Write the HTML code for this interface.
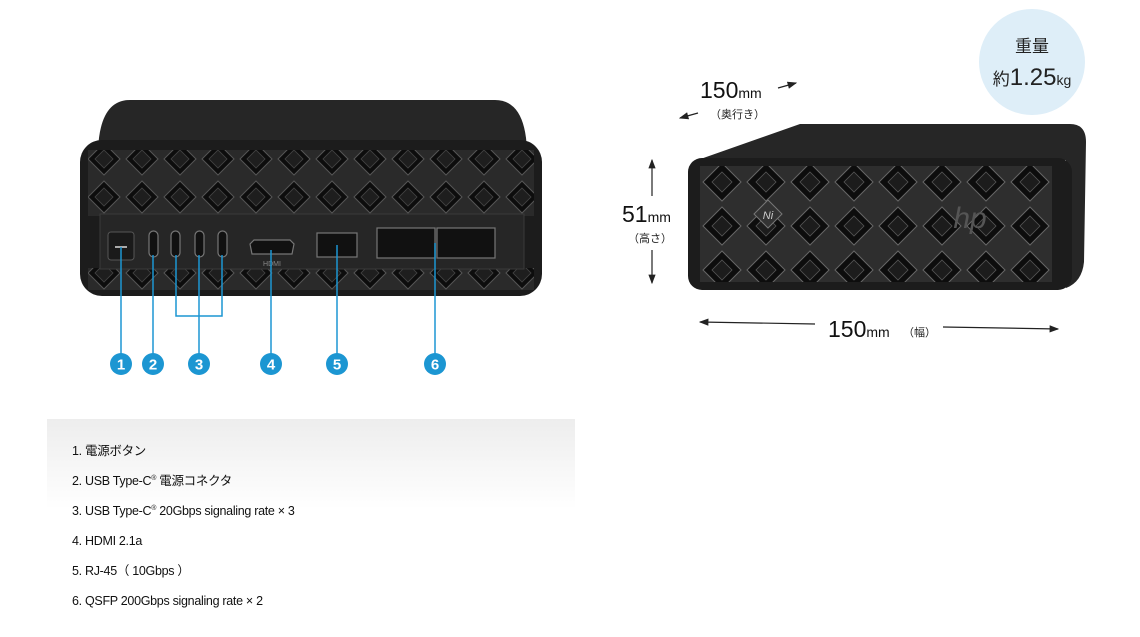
<!DOCTYPE html>
<html><head><meta charset="utf-8"><style>
html,body{margin:0;padding:0;background:#fff;}
body{width:1140px;height:637px;overflow:hidden;position:relative;font-family:"Liberation Sans","Noto Sans CJK JP",sans-serif;}
.leg{position:absolute;left:47px;top:419px;width:528px;height:90px;background:linear-gradient(#ededed,#ffffff);}
.t{position:absolute;left:72px;font-size:12.5px;line-height:16px;height:16px;color:#111;letter-spacing:-0.3px;white-space:nowrap;}
.t sup{font-size:7px;line-height:0;vertical-align:5px;}
</style></head><body>
<div class="leg"></div>
<div class="t" style="top:443px">1. 電源ボタン</div>
<div class="t" style="top:473px">2. USB Type-C<sup>®</sup> 電源コネクタ</div>
<div class="t" style="top:503px">3. USB Type-C<sup>®</sup> 20Gbps signaling rate × 3</div>
<div class="t" style="top:533px">4. HDMI 2.1a</div>
<div class="t" style="top:563px">5. RJ-45（ 10Gbps ）</div>
<div class="t" style="top:593px">6. QSFP 200Gbps signaling rate × 2</div>

<svg width="1140" height="637" style="position:absolute;left:0;top:0" xmlns="http://www.w3.org/2000/svg">
<defs>
<pattern id="g" width="38" height="38" patternUnits="userSpaceOnUse" patternTransform="translate(85,140)">
<rect width="38" height="38" fill="#2a2a2a"/>
<path d="M19 3 L35 19 L19 35 L3 19Z" fill="#0d0d0d" stroke="#555" stroke-width="1"/>
<path d="M19 10 L28 19 L19 28 L10 19Z" fill="#1e1e1e" stroke="#444" stroke-width="0.8"/>
</pattern>
<pattern id="g2" width="44" height="44" patternUnits="userSpaceOnUse" patternTransform="translate(700,160)">
<rect width="44" height="44" fill="#2e2e2e"/>
<path d="M22 3 L41 22 L22 41 L3 22Z" fill="#0d0d0d" stroke="#666" stroke-width="1"/>
<path d="M22 12 L32 22 L22 32 L12 22Z" fill="#1c1c1c" stroke="#555" stroke-width="0.8"/>
</pattern>
<marker id="a" markerWidth="8" markerHeight="8" refX="7" refY="4" orient="auto"><path d="M0 1 L8 4 L0 7Z" fill="#222"/></marker>
</defs>

<!-- left device -->
<path d="M98 150 Q100 100 130 100 L495 100 Q525 100 527 150Z" fill="#262626"/>
<rect x="80" y="140" width="462" height="156" rx="22" fill="#1c1c1c"/>
<rect x="88" y="150" width="446" height="66" fill="url(#g)"/>
<rect x="88" y="268" width="446" height="22" fill="url(#g)"/>
<rect x="100" y="214" width="424" height="55" fill="#262626" stroke="#3a3a3a"/>
<rect x="108" y="232" width="26" height="28" rx="3" fill="#1a1a1a" stroke="#555"/>
<line x1="115" y1="247" x2="127" y2="247" stroke="#aaa" stroke-width="2"/>
<g fill="#111" stroke="#777" stroke-width="1.2">
<rect x="149" y="231" width="9" height="26" rx="4.5"/><rect x="171" y="231" width="9" height="26" rx="4.5"/>
<rect x="195" y="231" width="9" height="26" rx="4.5"/><rect x="218" y="231" width="9" height="26" rx="4.5"/>
<path d="M250 244 L254 240 L290 240 L294 244 L292 254 L252 254Z"/>
<rect x="317" y="233" width="40" height="24"/>
<rect x="377" y="228" width="58" height="30"/><rect x="437" y="228" width="58" height="30"/>
</g>
<text x="272" y="266" font-size="7" fill="#888" text-anchor="middle">HDMI</text>
<g stroke="#1c96d2" stroke-width="1.5" fill="none">
<line x1="121" y1="247" x2="121" y2="354"/><line x1="153" y1="255" x2="153" y2="354"/>
<polyline points="176,255 176,316 222,316 222,255"/><line x1="199" y1="255" x2="199" y2="354"/>
<line x1="271" y1="250" x2="271" y2="354"/><line x1="337" y1="245" x2="337" y2="354"/><line x1="435" y1="243" x2="435" y2="354"/>
</g>
<g fill="#1c96d2">
<circle cx="121" cy="364" r="11"/><circle cx="153" cy="364" r="11"/><circle cx="199" cy="364" r="11"/>
<circle cx="271" cy="364" r="11"/><circle cx="337" cy="364" r="11"/><circle cx="435" cy="364" r="11"/>
</g>
<g fill="#fff" font-size="15" font-weight="bold" text-anchor="middle">
<text x="121" y="369.5">1</text><text x="153" y="369.5">2</text><text x="199" y="369.5">3</text>
<text x="271" y="369.5">4</text><text x="337" y="369.5">5</text><text x="435" y="369.5">6</text>
</g>

<!-- right device -->
<circle cx="1032" cy="62" r="53" fill="#deeef8"/>
<text x="1032" y="52" font-size="17" fill="#222" text-anchor="middle">重量</text>
<text x="1032" y="85" font-size="17" fill="#222" text-anchor="middle">約<tspan font-size="24">1.25</tspan><tspan font-size="14">kg</tspan></text>
<path d="M692 162 L800 124 L1070 124 Q1086 124 1086 142 L1084 262 Q1082 282 1066 288 L1066 160Z" fill="#262626"/>
<rect x="688" y="158" width="384" height="132" rx="14" fill="#1c1c1c"/>
<rect x="700" y="166" width="352" height="116" fill="url(#g2)"/>
<path d="M768 200 L782 214 L768 228 L754 214Z" fill="#333" stroke="#777"/>
<text x="768" y="219" font-size="11" fill="#ccc" text-anchor="middle" font-style="italic">Ni</text>
<text x="970" y="228" font-size="30" fill="#555" text-anchor="middle" font-style="italic">hp</text>

<text x="700" y="98" font-size="23" fill="#111">150<tspan font-size="14">mm</tspan></text>
<line x1="778" y1="88" x2="796" y2="83" stroke="#222" stroke-width="1.2" marker-end="url(#a)"/>
<line x1="698" y1="113" x2="680" y2="118" stroke="#222" stroke-width="1.2" marker-end="url(#a)"/>
<text x="710" y="118" font-size="11" fill="#222">（奥行き）</text>
<text x="622" y="222" font-size="23" fill="#111">51<tspan font-size="14">mm</tspan></text>
<text x="628" y="242" font-size="11" fill="#222">（高さ）</text>
<line x1="652" y1="196" x2="652" y2="160" stroke="#222" stroke-width="1.2" marker-end="url(#a)"/>
<line x1="652" y1="250" x2="652" y2="283" stroke="#222" stroke-width="1.2" marker-end="url(#a)"/>
<text x="828" y="337" font-size="23" fill="#111">150<tspan font-size="14">mm</tspan></text>
<text x="903" y="336" font-size="11" fill="#222">（幅）</text>
<line x1="815" y1="324" x2="700" y2="322" stroke="#222" stroke-width="1.2" marker-end="url(#a)"/>
<line x1="943" y1="327" x2="1058" y2="329" stroke="#222" stroke-width="1.2" marker-end="url(#a)"/>
</svg>
</body></html>
